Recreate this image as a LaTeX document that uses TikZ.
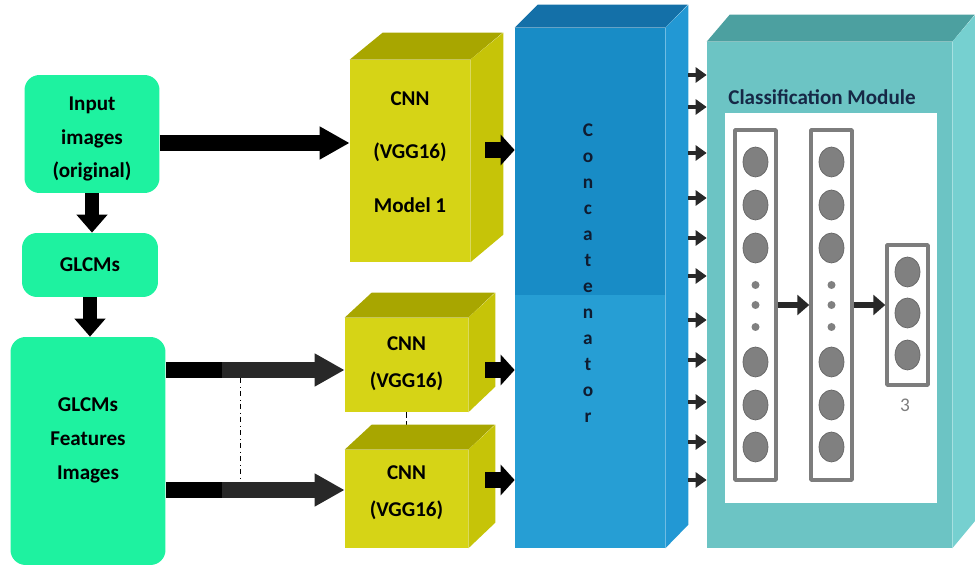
\documentclass[tikz,border=0pt]{standalone}
\usepackage{fontspec}
\setmainfont{Carlito}
\usetikzlibrary{arrows.meta}
\usetikzlibrary{positioning}
\usetikzlibrary{calc}
\usetikzlibrary{shapes.geometric}
\definecolor{mint}{RGB}{30,242,160}
\definecolor{cnnfront}{RGB}{214,212,22}
\definecolor{cnntopc}{RGB}{168,166,0}
\definecolor{cnnsidec}{RGB}{198,196,8}
\definecolor{catfront}{RGB}{24,140,198}
\definecolor{catlowc}{RGB}{38,158,212}
\definecolor{cattopc}{RGB}{20,112,168}
\definecolor{catsidec}{RGB}{34,152,212}
\definecolor{clsfront}{RGB}{108,196,196}
\definecolor{clstopc}{RGB}{76,160,160}
\definecolor{clssidec}{RGB}{118,208,208}
\definecolor{navytext}{RGB}{22,40,70}
\definecolor{laygray}{RGB}{125,125,125}
\definecolor{neurgray}{RGB}{128,128,128}
\definecolor{arrowdark}{RGB}{40,40,40}

\begin{document}
\begin{tikzpicture}[x=0.02cm,y=-0.02cm,line join=round,
  font=\bfseries\fontsize{12}{19.3}\selectfont,
  greenbox/.style={fill=mint, rounded corners=0.3cm, inner sep=0pt},
  cnnface/.style={fill=cnnfront, inner sep=0pt},
  boxtext/.style={align=center, inner sep=0pt},
  cnntop/.style={fill=cnntopc},
  cnnside/.style={fill=cnnsidec},
  bigarrow/.style={line width=0.32cm, -{Triangle[length=0.6cm,width=0.62cm]}},
  midarrow/.style={line width=0.32cm, -{Triangle[length=0.28cm,width=0.6cm]}},
  downarrow/.style={line width=0.28cm, -{Triangle[length=0.36cm,width=0.6cm]}},
  smallarrow/.style={line width=0.08cm, arrowdark, -{Triangle[length=0.22cm,width=0.3cm]}},
  layarrow/.style={line width=0.12cm, arrowdark, -{Triangle[length=0.24cm,width=0.4cm]}},
  layerbox/.style={draw=laygray, line width=2pt, minimum width=0.82cm, inner sep=0pt},
  neuron/.style={ellipse, fill=neurgray, draw=neurgray!80!black, minimum width=0.5cm, minimum height=0.6cm, inner sep=0pt},
  dotn/.style={circle, fill=neurgray, minimum size=0.16cm, inner sep=0pt}]
\useasboundingbox (0,0) rectangle (975,570);

% input side
\node[greenbox, minimum width=2.7cm, minimum height=2.36cm] (inp) at (92,134) {};
\node[boxtext] (inptxt) at ([yshift=-0.1cm]inp.center) {Input\\images\\(original)};
\node[greenbox, minimum width=2.72cm, minimum height=1.28cm] (glcm) at (90,265) {};
\node[boxtext] (glcmtxt) at (glcm.center) {GLCMs};
\node[greenbox, minimum width=3.1cm, minimum height=4.56cm] (feat) at (88,451) {};
\node[boxtext] (feattxt) at ([yshift=0.22cm]feat.center) {GLCMs\\Features\\Images};
\draw[downarrow] (inp.south) -- (inp.south |- glcm.north);
\draw[downarrow] (glcm.south) -- (glcm.south |- feat.north);

% CNN models
\node[cnnface, minimum width=2.4cm, minimum height=4.04cm] (cnn1) at (410,161) {};
\node[boxtext] (cnn1txt) at ([yshift=0.18cm]cnn1.center) {CNN\\[11.3pt](VGG16)\\[11.3pt]Model 1};
\fill[cnntop] (cnn1.north west) -- ++(33,-27) -- ++(120,0) -- (cnn1.north east) -- cycle;
\fill[cnnside] (cnn1.north east) -- ++(33,-27) -- ++(0,202) -- (cnn1.south east) -- cycle;

\node[cnnface, minimum width=2.46cm, minimum height=1.88cm] (cnn2) at (406.5,365) {};
\node[boxtext] (cnn2txt) at ([yshift=0.02cm]cnn2.center) {CNN\\[1.7pt](VGG16)};
\fill[cnntop] (cnn2.north west) -- ++(27,-25) -- ++(123,0) -- (cnn2.north east) -- cycle;
\fill[cnnside] (cnn2.north east) -- ++(27,-25) -- ++(0,94) -- (cnn2.south east) -- cycle;

\draw[densely dashed, thin] (cnn2.south) -- ++(0,20);

\node[cnnface, minimum width=2.46cm, minimum height=1.96cm] (cnn3) at (406.5,499) {};
\node[boxtext] (cnn3txt) at ([yshift=0.12cm]cnn3.center) {CNN\\[1.7pt](VGG16)};
\fill[cnntop] (cnn3.north west) -- ++(27,-25) -- ++(123,0) -- (cnn3.north east) -- cycle;
\fill[cnnside] (cnn3.north east) -- ++(27,-25) -- ++(0,98) -- (cnn3.south east) -- cycle;

% arrows into the CNNs
\draw[bigarrow] (inp.east |- 0,143) -- (cnn1.west |- 0,143);
\draw[bigarrow, arrowdark] (feat.east |- 0,370) -- (cnn2.west |- 0,370);
\draw[bigarrow, arrowdark] (feat.east |- 0,490) -- (cnn3.west |- 0,490);
\fill (feat.east |- 0,362) rectangle (222,378);
\fill (feat.east |- 0,482) rectangle (222,498);
\coordinate (split1) at (240,378);
\coordinate (split2) at (240,482);
\draw[dash dot, thin] (split1) -- (split2);

% concatenator
\node[fill=catfront, minimum width=3cm, minimum height=10.4cm, inner sep=0pt] (concat) at (590,288) {};
\fill[catlowc] (concat.west |- 0,295) rectangle (concat.south east);
\fill[cattopc] (concat.north west) -- ++(23,-23) -- ++(150,0) -- (concat.north east) -- cycle;
\fill[catsidec] (concat.north east) -- ++(23,-23) -- ++(0,520) -- (concat.south east) -- cycle;
\node[align=center, text=navytext!70!black, font=\bfseries\fontsize{11}{14.8}\selectfont] (cattext) at (588,273)
  {C\\o\\n\\c\\a\\t\\e\\n\\a\\t\\o\\r};

\draw[midarrow] ($(cnn1.east)+(15,-11)$) -- (concat.west |- 0,150);
\draw[midarrow] ($(cnn2.east)+(17,5)$) -- (concat.west |- 0,370);
\draw[midarrow] ($(cnn3.east)+(17,-19)$) -- (concat.west |- 0,480);

% classification module
\node[fill=clsfront, minimum width=4.9cm, minimum height=10.12cm, inner sep=0pt] (cls) at (829.5,295) {};
\fill[clstopc] (cls.north west) -- ++(23,-27) -- ++(245,0) -- (cls.north east) -- cycle;
\fill[clssidec] (cls.north east) -- ++(23,-27) -- ++(0,506) -- (cls.south east) -- cycle;

\coordinate (catout) at ($(concat.east)+(23,0)$);
\foreach \y in {75,107,153,198,238,276,320,360,402,442,480}
  \draw[smallarrow] (catout |- 0,\y) -- (cls.west |- 0,\y);

\node[text=navytext, font=\bfseries\fontsize{12}{14}\selectfont] (clstitle) at (822,97) {Classification Module};
\node[fill=white, minimum width=4.24cm, minimum height=7.8cm, inner sep=0pt] (panel) at (831,308) {};

\node[layerbox, minimum height=7cm] (lay1) at (755.5,305) {};
\node[layerbox, minimum height=7cm] (lay2) at (831.5,305) {};
\node[layerbox, minimum height=2.8cm] (lay3) at (907.5,315) {};
\foreach \y [count=\i] in {162,205,248,362,405,447} {
  \node[neuron] (a\i) at (755.5,\y) {};
  \node[neuron] (b\i) at (831.5,\y) {};
}
\foreach \y [count=\i] in {285,305,327} {
  \node[dotn] (ad\i) at (755.5,\y) {};
  \node[dotn] (bd\i) at (831.5,\y) {};
}
\foreach \y [count=\i] in {272,313,355}
  \node[neuron] (c\i) at (907.5,\y) {};
\node[text=laygray, font=\mdseries\fontsize{11}{12}\selectfont] (outn) at (905,405) {3};

\draw[layarrow] (lay1.east |- 0,305) -- (lay2.west |- 0,305);
\draw[layarrow] (lay2.east |- 0,305) -- (lay3.west |- 0,305);
\end{tikzpicture}
\end{document}
